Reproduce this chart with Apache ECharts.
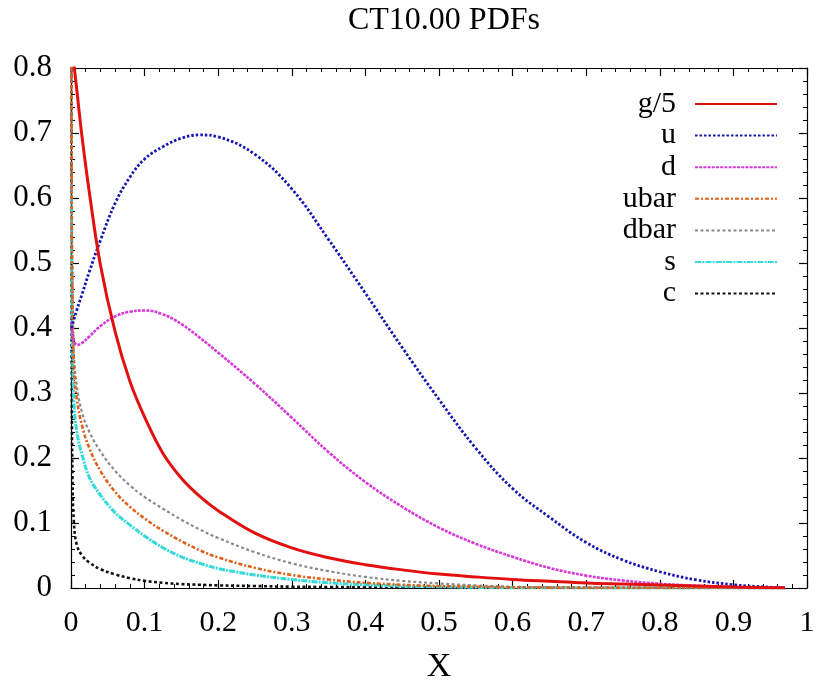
<!DOCTYPE html>
<html>
<head>
<meta charset="utf-8">
<script src="https://cdn.jsdelivr.net/npm/echarts@6/dist/echarts.min.js"></script>
<style>
  html, body { margin: 0; padding: 0; background: #fff; }
  #chart { width: 817px; height: 683px; }
</style>
</head>
<body>
<div id="chart"></div>
<script>
// Momentum fraction grid shared by every parton curve
const xGrid = [0.0005, 0.001, 0.002, 0.004, 0.008, 0.015, 0.025, 0.04, 0.06, 0.08,
               0.1, 0.125, 0.15, 0.175, 0.2, 0.25, 0.3, 0.35, 0.4, 0.45,
               0.5, 0.55, 0.6, 0.65, 0.7, 0.75, 0.8, 0.85, 0.9, 0.95, 0.97];

// x * f(x) for each parton flavour (gluon scaled by 1/5)
const gOver5 = [0.84, 0.835, 0.825, 0.805, 0.765, 0.694, 0.608, 0.497, 0.394, 0.318,
                0.263, 0.207, 0.169, 0.141, 0.119, 0.0843, 0.0617, 0.0466, 0.0359, 0.0279,
                0.0214, 0.017, 0.0132, 0.0104, 0.0078, 0.0061, 0.0045, 0.003, 0.0015, 0.0004, 0.0002];
const uQ    = [0.40, 0.402, 0.406, 0.413, 0.428, 0.452, 0.487, 0.535, 0.592, 0.632,
               0.66, 0.679, 0.692, 0.697, 0.694, 0.667, 0.614, 0.536, 0.4535, 0.37,
               0.29, 0.215, 0.153, 0.109, 0.07, 0.043, 0.025, 0.0125, 0.005, 0.0013, 0.0004];
const dQ    = [0.41, 0.402, 0.392, 0.381, 0.374, 0.377, 0.387, 0.403, 0.418, 0.425,
               0.427, 0.421, 0.406, 0.385, 0.362, 0.314, 0.262, 0.209, 0.163, 0.125,
               0.093, 0.068, 0.048, 0.031, 0.019, 0.0115, 0.0065, 0.0035, 0.0015, 0.0004, 0.0001];
const ubarQ = [0.85, 0.6, 0.45, 0.34, 0.29, 0.25, 0.215, 0.18, 0.148, 0.125,
               0.107, 0.088, 0.072, 0.058, 0.047, 0.031, 0.02, 0.013, 0.008, 0.005,
               0.003, 0.002, 0.001, 0.0006, 0.0004, 0.0002, 0.0001, 0.0001, 0, 0, 0];
const dbarQ = [0.85, 0.62, 0.47, 0.36, 0.31, 0.27, 0.24, 0.21, 0.18, 0.158,
               0.14, 0.122, 0.105, 0.09, 0.077, 0.055, 0.038, 0.026, 0.017, 0.011,
               0.007, 0.004, 0.002, 0.001, 0.0006, 0.0003, 0.0001, 0.0001, 0, 0, 0];
const sQ    = [0.62, 0.5, 0.38, 0.285, 0.24, 0.205, 0.17, 0.143, 0.116, 0.097,
               0.08, 0.062, 0.048, 0.038, 0.03, 0.02, 0.013, 0.008, 0.005, 0.003,
               0.002, 0.001, 0.0005, 0.0003, 0.0001, 0, 0, 0, 0, 0, 0];
const cQ    = [0.9, 0.35, 0.17, 0.1, 0.066, 0.05, 0.039, 0.029, 0.021, 0.015,
               0.011, 0.008, 0.006, 0.005, 0.004, 0.003, 0.002, 0.0015, 0.001, 0.0007,
               0.0005, 0.0003, 0.0002, 0.0001, 0, 0, 0, 0, 0, 0, 0];

const seriesNames = ['g/5', 'u', 'd', 'ubar', 'dbar', 's', 'c'];
const seriesValues = [gOver5, uQ, dQ, ubarQ, dbarQ, sQ, cQ];

const xTickLabels = ['0', '0.1', '0.2', '0.3', '0.4', '0.5', '0.6', '0.7', '0.8', '0.9', '1'];
const yTickLabels = ['0', '0.1', '0.2', '0.3', '0.4', '0.5', '0.6', '0.7', '0.8'];

const styles = [
  { color: '#e31010', width: 3,   type: 'solid' },
  { color: '#1515b0', width: 2.8, type: [2.5, 2] },
  { color: '#d838d8', width: 2.6, type: [3, 1.2] },
  { color: '#e0601a', width: 2.6, type: [4, 2, 2, 2] },
  { color: '#8a8a8a', width: 2.2, type: [3, 2.5] },
  { color: '#35dada', width: 3,   type: [6, 1.2, 2, 1.2] },
  { color: '#111111', width: 2.6, type: [3, 2.5] }
];

const FONT = '"Liberation Serif", "DejaVu Serif", serif';

const series = seriesNames.map(function (name, i) {
  return {
    name: name,
    type: 'line',
    xAxisIndex: 0,
    yAxisIndex: 0,
    symbol: 'none',
    smooth: 0.4,
    clip: true,
    data: xGrid.map(function (x, k) { return [x, seriesValues[i][k]]; }),
    lineStyle: { color: styles[i].color, width: styles[i].width, type: styles[i].type },
    itemStyle: { color: styles[i].color },
    z: 10 - i
  };
});

function xAxisDef(pos, showLabels) {
  return {
    type: 'value', position: pos, min: 0, max: 1, interval: 0.1,
    axisLine: { show: true, onZero: false, lineStyle: { color: '#000', width: 1.2 } },
    axisTick: { show: true, inside: true, length: 8, lineStyle: { color: '#000', width: 1.2 } },
    minorTick: { show: true, splitNumber: 5, length: 4, lineStyle: { color: '#000', width: 1 } },
    splitLine: { show: false },
    axisLabel: {
      show: showLabels, margin: 20, color: '#000', fontFamily: FONT, fontSize: 30,
      formatter: function (v) { return xTickLabels[Math.round(v * 10)]; }
    },
    name: showLabels ? 'X' : '',
    nameLocation: 'middle', nameGap: 62,
    nameTextStyle: { color: '#000', fontFamily: FONT, fontSize: 34 }
  };
}

function yAxisDef(pos, showLabels) {
  return {
    type: 'value', position: pos, min: 0, max: 0.8, interval: 0.1,
    axisLine: { show: true, onZero: false, lineStyle: { color: '#000', width: 1.2 } },
    axisTick: { show: true, inside: true, length: 8, lineStyle: { color: '#000', width: 1.2 } },
    minorTick: { show: true, splitNumber: 5, length: 4, lineStyle: { color: '#000', width: 1 } },
    splitLine: { show: false },
    axisLabel: {
      show: showLabels, margin: 19, color: '#000', fontFamily: FONT, fontSize: 31,
      formatter: function (v) { return yTickLabels[Math.round(v * 10)]; }
    }
  };
}

const chart = echarts.init(document.getElementById('chart'), null, { renderer: 'canvas' });
chart.setOption({
  animation: false,
  backgroundColor: '#fff',
  title: {
    text: 'CT10.00 PDFs',
    left: 439, textAlign: 'center', top: 0,
    textStyle: { color: '#000', fontFamily: FONT, fontSize: 32, fontWeight: 'normal' }
  },
  grid: { left: 71, right: 10, top: 68, bottom: 95, containLabel: false, outerBoundsMode: 'none' },
  legend: {
    orient: 'vertical', align: 'right',
    right: 39, top: 89, padding: 0,
    itemWidth: 82, itemHeight: 14, itemGap: 1.6,
    itemStyle: { opacity: 0 },
    textStyle: { color: '#000', fontFamily: FONT, fontSize: 30, lineHeight: 30, padding: [0, 14, 0, 0] },
    data: seriesNames
  },
  xAxis: [xAxisDef('bottom', true), xAxisDef('top', false)],
  yAxis: [yAxisDef('left', true), yAxisDef('right', false)],
  series: series
});
</script>
</body>
</html>
